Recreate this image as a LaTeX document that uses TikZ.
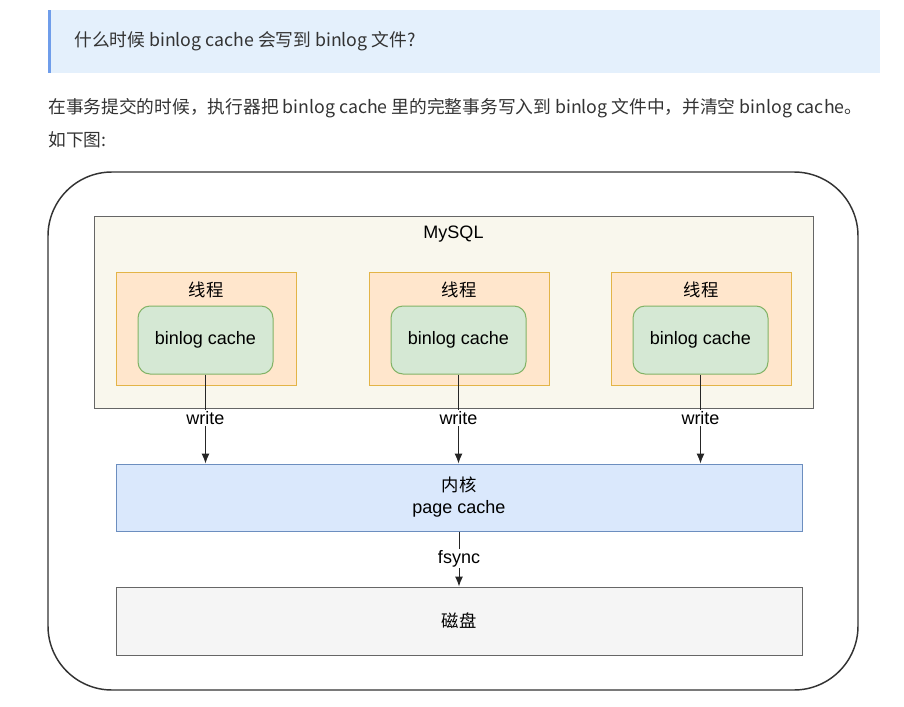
\documentclass[tikz,border=0pt]{standalone}
\usepackage{fontspec}
\setmainfont{Liberation Sans}
\newfontfamily\cjk{Noto Sans CJK SC}
\usetikzlibrary{calc, positioning, arrows.meta}

\definecolor{quotebg}{HTML}{E4F0FC}
\definecolor{quotebar}{HTML}{6F9DEA}
\definecolor{bodytext}{HTML}{333333}
\definecolor{mysqlfill}{HTML}{F9F7ED}
\definecolor{boxline}{HTML}{666666}
\definecolor{threadfill}{HTML}{FFE6CC}
\definecolor{threadline}{HTML}{E3B447}
\definecolor{cachefill}{HTML}{D5E8D4}
\definecolor{cacheline}{HTML}{82B366}
\definecolor{kernfill}{HTML}{DAE8FC}
\definecolor{kernline}{HTML}{6C8EBF}
\definecolor{diskfill}{HTML}{F5F5F5}

\begin{document}
\begin{tikzpicture}[x=0.75pt, y=-0.75pt, >={Latex[length=7.5pt, width=6pt]}, font=\fontsize{13.5}{16.5}\selectfont,
    box/.style={draw=boxline, line width=0.75pt, inner sep=0pt},
    threadbox/.style={box, draw=threadline, fill=threadfill, minimum width=135pt, minimum height=84.75pt},
    cachebox/.style={box, draw=cacheline, fill=cachefill, rounded corners=9pt, minimum width=101.25pt, minimum height=51pt},
    wide/.style={box, minimum width=514.5pt, minimum height=50.25pt},
    flow/.style={->, line width=0.75pt, draw=black!85},
    flowlabel/.style={fill=white, inner sep=1pt, pos=0.49},
    prose/.style={anchor=west, text=bodytext, inner sep=0pt, font=\cjk\fontsize{13.3}{16}\selectfont}]
    \useasboundingbox (0,0) rectangle (904,707);

    % text above the diagram
    \fill[quotebg] (48,10) rectangle (880,73);
    \fill[quotebar] (48,10) rectangle (51,73);
    \node[prose] (question) at (74,41) {什么时候 binlog cache 会写到 binlog 文件?};
    \node[prose] (answer) at (48,108) {在事务提交的时候，执行器把 binlog cache 里的完整事务写入到 binlog 文件中，并清空 binlog cache。};
    \node[prose] (fig-ref) at (48,140) {如下图:};

    % frame
    \draw[draw=bodytext, line width=1.1pt, rounded corners=48pt] (48,172) rectangle (858,690);

    \node[box, fill=mysqlfill, minimum width=539.25pt, minimum height=144pt] at (453.5,312) (mysql) {};
    \node at (453.5,234) (mysql-label) {MySQL};

    \foreach \i/\x in {1/206, 2/459, 3/701} {
        \node[threadbox] at (\x,328.5) (thread\i) {};
        \node[font=\cjk\fontsize{13}{16}\selectfont] at (\x,290) (thread-label\i) {线程};
        \node[cachebox] at (\x-0.5,340) (cache\i) {binlog cache};
    };

    \node[wide, draw=kernline, fill=kernfill, align=center] at (459,497.5) (kernel) {{\cjk\fontsize{13}{16}\selectfont 内核}\\page cache};
    \node[wide, fill=diskfill, minimum height=51pt] at (459,621) (disk) {{\cjk\fontsize{13}{16}\selectfont 磁盘}};

    \foreach \i in {1, 2, 3} {
        \draw[flow] (cache\i.south) -- (cache\i.south |- kernel.north) node[flowlabel] {write};
    };
    \draw[flow] (kernel.south) -- (disk.north) node[flowlabel] {fsync};
\end{tikzpicture}
\end{document}
